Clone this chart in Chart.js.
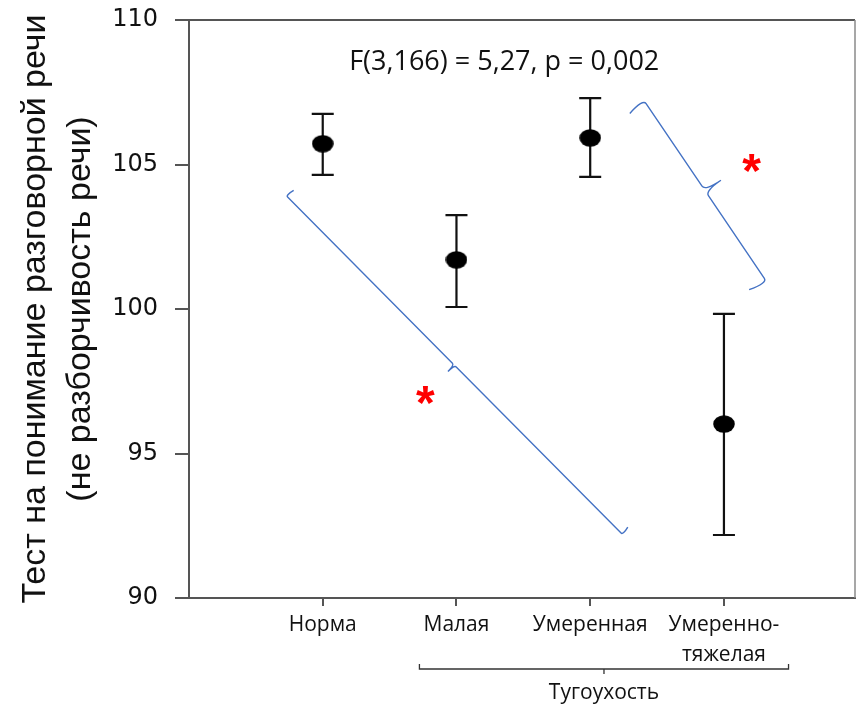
<!DOCTYPE html>
<html><head><meta charset="utf-8">
<script src="https://cdn.jsdelivr.net/npm/chart.js@4/dist/chart.umd.min.js"></script>
<style>html,body{margin:0;padding:0;background:#fff}</style>
</head><body>
<canvas id="c" width="858" height="710"></canvas>
<script>
// ---- data ----
const categories = ['Норма', 'Малая', 'Умеренная', ['Умеренно-', 'тяжелая']];
const means = [105.72, 101.70, 105.92, 96.02];
const upper = [106.75, 103.25, 107.30, 99.83];
const lower = [104.64, 100.07, 104.57, 92.18];
const yTicks = [90, 95, 100, 105, 110];
const statText = 'F(3,166) = 5,27, p = 0,002';
const statPos = [2.357, 108.55];
const yTitle = ['Тест на понимание разговорной речи', '(не разборчивость речи)'];
const groupLabel = 'Тугоухость';
const groupSpan = [1.723, 4.483];
const braceFrom = [[0.723, 103.94], [3.394, 107.27]];
const braceTo = [[3.245, 92.18], [4.326, 100.90]];
const braceSide = [1, -1];
const braceHook = [9, 19];
const stars = [[1.768, 97.13], [4.207, 105.16]];

// ---- marker (slightly oval dot) ----
const dot = document.createElement('canvas');
dot.width = 22; dot.height = 18;
(function(){const g = dot.getContext('2d'); g.fillStyle = '#000'; g.beginPath(); g.ellipse(11, 9, 10.8, 8.8, 0, 0, Math.PI * 2); g.fill();})();

const extras = {
  id: 'extras',
  beforeDatasetsDraw(chart) {
    const {ctx, scales: {x, y}} = chart;
    ctx.save();
    ctx.strokeStyle = '#111';
    ctx.lineWidth = 2.2;
    means.forEach((m, i) => {
      const px = x.getPixelForValue(i + 1);
      const pu = y.getPixelForValue(upper[i]);
      const pl = y.getPixelForValue(lower[i]);
      ctx.beginPath();
      ctx.moveTo(px, pu); ctx.lineTo(px, pl);
      ctx.moveTo(px - 11, pu); ctx.lineTo(px + 11, pu);
      ctx.moveTo(px - 11, pl); ctx.lineTo(px + 11, pl);
      ctx.stroke();
    });
    ctx.restore();
  },
  afterDraw(chart) {
    const {ctx, chartArea: a, scales: {x, y}} = chart;
    ctx.save();
    // box top & right
    ctx.strokeStyle = '#555'; ctx.lineWidth = 2;
    ctx.beginPath(); ctx.moveTo(a.left, a.top); ctx.lineTo(a.right, a.top); ctx.stroke();
    ctx.strokeStyle = '#8a8a8a'; ctx.lineWidth = 1.5;
    ctx.beginPath(); ctx.moveTo(a.right, a.top); ctx.lineTo(a.right, a.bottom); ctx.stroke();

    // stat text
    ctx.fillStyle = '#111';
    ctx.font = '27px "Open Sans"';
    ctx.textAlign = 'center'; ctx.textBaseline = 'middle';
    ctx.fillText(statText, x.getPixelForValue(statPos[0]), y.getPixelForValue(statPos[1]));

    // braces
    ctx.strokeStyle = '#4472C4'; ctx.lineWidth = 1.4;
    braceFrom.forEach((f, i) => {
      const P1 = [x.getPixelForValue(f[0]), y.getPixelForValue(f[1])];
      const P2 = [x.getPixelForValue(braceTo[i][0]), y.getPixelForValue(braceTo[i][1])];
      const dx = P2[0] - P1[0], dy = P2[1] - P1[1], L = Math.hypot(dx, dy);
      const u = [dx / L, dy / L];
      const n = [u[1] * braceSide[i], -u[0] * braceSide[i]];
      const h = braceHook[i];
      const M = [(P1[0] + P2[0]) / 2, (P1[1] + P2[1]) / 2];
      const pt = (b, su, sn) => [b[0] + u[0] * su + n[0] * sn, b[1] + u[1] * su + n[1] * sn];
      ctx.beginPath();
      let p = pt(P1, h * 0.25, h); ctx.moveTo(p[0], p[1]);
      let c = pt(P1, 0, 0); p = pt(P1, h * 0.3, 0);
      ctx.quadraticCurveTo(c[0], c[1], p[0], p[1]);
      p = pt(M, -h * 0.3, 0); ctx.lineTo(p[0], p[1]);
      c = pt(M, 0, 0); p = pt(M, 0, -h);
      ctx.quadraticCurveTo(c[0], c[1], p[0], p[1]);
      ctx.moveTo(p[0], p[1]);
      c = pt(M, 0, 0); p = pt(M, h * 0.3, 0);
      ctx.quadraticCurveTo(c[0], c[1], p[0], p[1]);
      p = pt(P2, -h * 0.3, 0); ctx.lineTo(p[0], p[1]);
      c = pt(P2, 0, 0); p = pt(P2, -h * 0.25, h);
      ctx.quadraticCurveTo(c[0], c[1], p[0], p[1]);
      ctx.stroke();
    });

    // stars
    ctx.fillStyle = '#FF0000';
    ctx.font = 'bold 48px "Liberation Sans"';
    ctx.textAlign = 'center'; ctx.textBaseline = 'alphabetic';
    stars.forEach(s => ctx.fillText('*', x.getPixelForValue(s[0]), y.getPixelForValue(s[1]) + 48 * 0.56));

    // group bracket under x labels
    const gx1 = x.getPixelForValue(groupSpan[0]), gx2 = x.getPixelForValue(groupSpan[1]);
    const gy = a.bottom + 71, gm = (gx1 + gx2) / 2;
    ctx.strokeStyle = '#333'; ctx.lineWidth = 1.3;
    ctx.beginPath();
    ctx.moveTo(gx1, gy - 5); ctx.lineTo(gx1, gy); ctx.lineTo(gx2, gy); ctx.lineTo(gx2, gy - 5);
    ctx.moveTo(gm, gy); ctx.lineTo(gm, gy + 5);
    ctx.stroke();
    ctx.fillStyle = '#111';
    ctx.font = '21px "Open Sans"';
    ctx.textAlign = 'center'; ctx.textBaseline = 'middle';
    ctx.fillText(groupLabel, gm, a.bottom + 95);
    ctx.restore();
  }
};

new Chart(document.getElementById('c'), {
  type: 'scatter',
  data: {
    datasets: [{
      data: means.map((m, i) => ({x: i + 1, y: m})),
      pointStyle: dot,
      pointRadius: 10,
      pointHoverRadius: 10
    }]
  },
  options: {
    responsive: false,
    animation: false,
    events: [],
    layout: {autoPadding: false, padding: {top: 20, right: 3, left: 0, bottom: 0}},
    plugins: {legend: {display: false}, tooltip: {enabled: false}},
    scales: {
      x: {
        type: 'linear', min: 0, max: 4.98,
        afterBuildTicks: s => { s.ticks = categories.map((c, i) => ({value: i + 1})); },
        afterFit: s => { s.height = 112; s.paddingLeft = 0; s.paddingRight = 0; },
        ticks: {
          autoSkip: false, maxRotation: 0, minRotation: 0, padding: 4,
          color: '#111', font: {family: 'Open Sans', size: 21, lineHeight: 1.43},
          callback: v => categories[v - 1]
        },
        grid: {drawOnChartArea: false, drawTicks: true, tickLength: 8, color: '#555', lineWidth: 2},
        border: {display: true, color: '#555', width: 2}
      },
      y: {
        min: 90, max: 110,
        afterBuildTicks: s => { s.ticks = yTicks.map(v => ({value: v})); },
        afterFit: s => { s.width = 189; s.paddingTop = 0; s.paddingBottom = 0; },
        ticks: {padding: 17, color: '#111', font: {family: 'DejaVu Sans', size: 24}},
        grid: {drawOnChartArea: false, drawTicks: true, tickLength: 14, color: '#555', lineWidth: 2},
        border: {display: true, color: '#555', width: 2},
        title: {
          display: true, text: yTitle, color: '#111',
          font: {family: 'Liberation Sans', size: 34, lineHeight: 1.3},
          padding: {top: 14, bottom: 0}
        }
      }
    }
  },
  plugins: [extras]
});
</script>
</body></html>
